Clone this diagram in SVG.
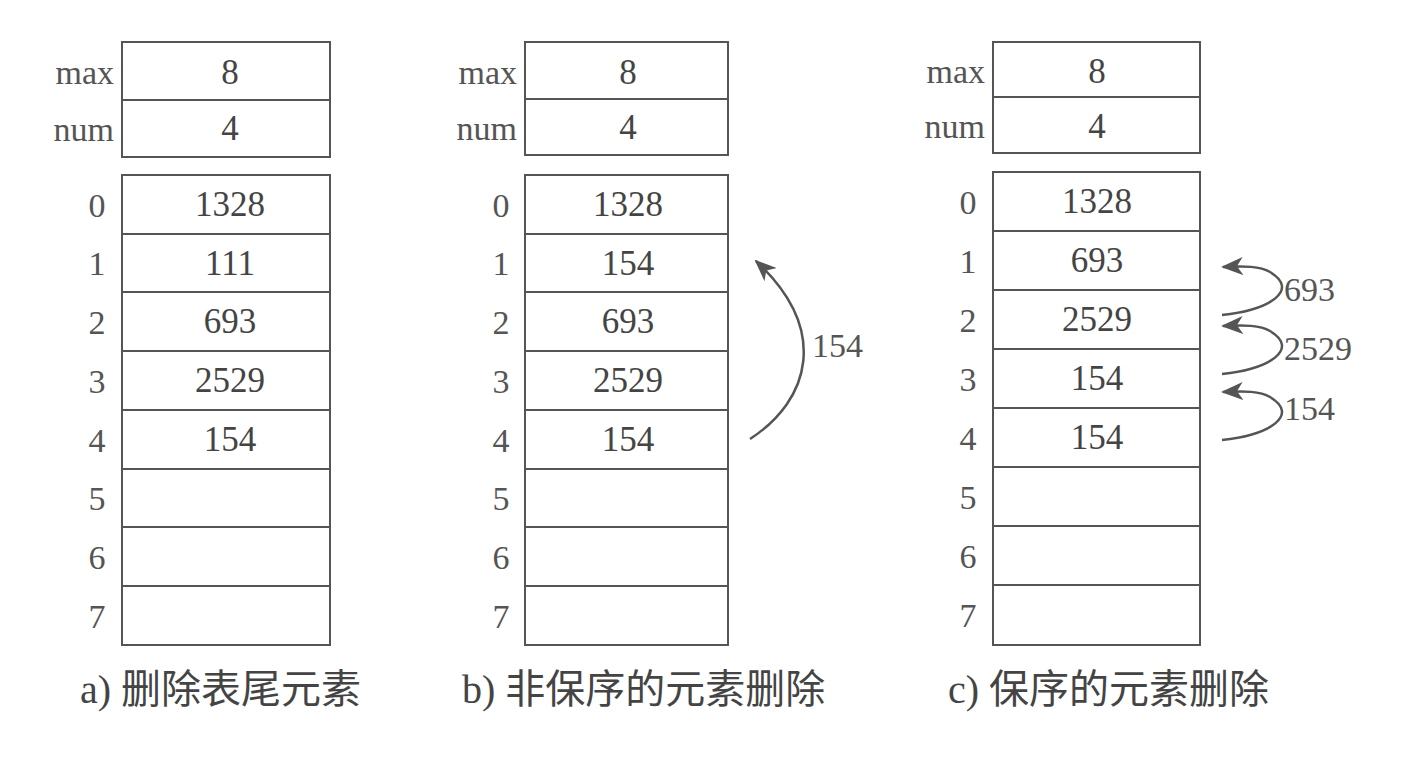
<svg xmlns="http://www.w3.org/2000/svg" width="1403" height="759" viewBox="0 0 1403 759">
<style>
.b{fill:none;stroke:#555;stroke-width:2}
.t{font-family:"Liberation Serif",serif;font-size:35px;fill:#444;text-anchor:middle}
.l{font-family:"Liberation Serif",serif;font-size:34px;fill:#555}
.c{font-family:"Liberation Serif","Noto Sans CJK SC",serif;font-size:40px;fill:#444}
.a{fill:none;stroke:#555;stroke-width:2.5}
</style>
<defs><marker id="h" markerWidth="22" markerHeight="18" refX="20" refY="9" orient="auto" markerUnits="userSpaceOnUse"><path d="M0,0 L22,9 L0,18 L6,9Z" fill="#555"/></marker></defs>
<rect width="1403" height="759" fill="#fff"/>
<g id="panelA">
<rect class="b" x="122" y="42" width="208" height="58"/><rect class="b" x="122" y="100" width="208" height="57"/>
<text class="l" x="114" y="84" text-anchor="end">max</text><text class="l" x="114" y="141" text-anchor="end">num</text>
<text class="t" x="230" y="84">8</text><text class="t" x="230" y="140">4</text>
<rect class="b" x="122" y="175" width="208" height="470"/>
<path class="b" d="M122 234H330M122 292H330M122 351H330M122 410H330M122 469H330M122 527H330M122 586H330"/>
<g class="l" text-anchor="middle"><text x="97" y="217">0</text><text x="97" y="275">1</text><text x="97" y="334">2</text><text x="97" y="393">3</text><text x="97" y="452">4</text><text x="97" y="510">5</text><text x="97" y="569">6</text><text x="97" y="628">7</text></g>
<text class="t" x="230" y="216">1328</text><text class="t" x="230" y="275">111</text><text class="t" x="230" y="333">693</text><text class="t" x="230" y="392">2529</text><text class="t" x="230" y="451">154</text>
<text class="c" x="80" y="703">a) 删除表尾元素</text>
</g>
<g id="panelB">
<rect class="b" x="525" y="42" width="203" height="57"/><rect class="b" x="525" y="99" width="203" height="56"/>
<text class="l" x="517" y="84" text-anchor="end">max</text><text class="l" x="517" y="140" text-anchor="end">num</text>
<text class="t" x="628" y="84">8</text><text class="t" x="628" y="139">4</text>
<rect class="b" x="525" y="175" width="203" height="470"/>
<path class="b" d="M525 234H728M525 292H728M525 351H728M525 410H728M525 469H728M525 527H728M525 586H728"/>
<g class="l" text-anchor="middle"><text x="501" y="217">0</text><text x="501" y="275">1</text><text x="501" y="334">2</text><text x="501" y="393">3</text><text x="501" y="452">4</text><text x="501" y="510">5</text><text x="501" y="569">6</text><text x="501" y="628">7</text></g>
<text class="t" x="628" y="216">1328</text><text class="t" x="628" y="275">154</text><text class="t" x="628" y="333">693</text><text class="t" x="628" y="392">2529</text><text class="t" x="628" y="451">154</text>
<text class="c" x="462" y="703">b) 非保序的元素删除</text>
</g>
<g id="panelC">
<rect class="b" x="993" y="42" width="207" height="55"/><rect class="b" x="993" y="97" width="207" height="56"/>
<text class="l" x="985" y="83" text-anchor="end">max</text><text class="l" x="985" y="138" text-anchor="end">num</text>
<text class="t" x="1097" y="83">8</text><text class="t" x="1097" y="138">4</text>
<rect class="b" x="993" y="172" width="207" height="473"/>
<path class="b" d="M993 231H1200M993 290H1200M993 349H1200M993 408H1200M993 467H1200M993 526H1200M993 585H1200"/>
<g class="l" text-anchor="middle"><text x="968" y="214">0</text><text x="968" y="273">1</text><text x="968" y="332">2</text><text x="968" y="391">3</text><text x="968" y="450">4</text><text x="968" y="509">5</text><text x="968" y="568">6</text><text x="968" y="627">7</text></g>
<text class="t" x="1097" y="213">1328</text><text class="t" x="1097" y="272">693</text><text class="t" x="1097" y="331">2529</text><text class="t" x="1097" y="390">154</text><text class="t" x="1097" y="449">154</text>
<text class="c" x="948" y="703">c) 保序的元素删除</text>
</g>
<g id="connectors">
<path class="a" d="M750 439 C810 400 830 330 756 261" marker-end="url(#h)"/>
<path class="a" d="M1222 315 C1270 310 1300 290 1270 272 C1260 266 1245 266 1223 267" marker-end="url(#h)"/>
<path class="a" d="M1222 374 C1270 369 1300 349 1270 331 C1260 325 1245 325 1223 326" marker-end="url(#h)"/>
<path class="a" d="M1222 440 C1270 435 1300 415 1270 397 C1260 391 1245 391 1223 392" marker-end="url(#h)"/>
<g class="l" font-size="36"><text x="812" y="357">154</text><text x="1284" y="301">693</text><text x="1284" y="360">2529</text><text x="1284" y="420">154</text></g>
</g>
</svg>
